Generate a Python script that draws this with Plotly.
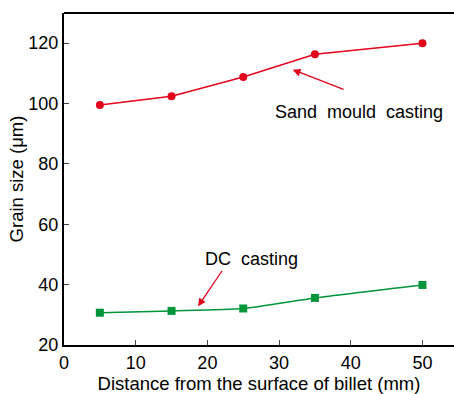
import plotly.graph_objects as go

distance = [5, 15, 25, 35, 50]
sand_mould = [99.5, 102.4, 108.8, 116.3, 120.0]
dc_casting = [30.7, 31.3, 32.1, 35.6, 39.9]

x_ticks = [0, 10, 20, 30, 40, 50]
y_ticks = [20, 40, 60, 80, 100, 120]

RED = "#e3001b"
GREEN = "#00953a"
FONT = "Liberation Sans, Arial, sans-serif"

fig = go.Figure()
fig.add_trace(go.Scatter(
    x=distance, y=sand_mould, mode="lines+markers",
    line=dict(color=RED, width=1.5),
    marker=dict(symbol="circle", size=8, color=RED),
    name="Sand mould casting", showlegend=False))
fig.add_trace(go.Scatter(
    x=distance, y=dc_casting, mode="lines+markers",
    line=dict(color=GREEN, width=1.5, shape="spline", smoothing=0.6),
    marker=dict(symbol="square", size=8, color=GREEN),
    name="DC casting", showlegend=False))

fig.add_annotation(x=41.1, y=97.3, text="Sand  mould  casting", showarrow=False,
                   font=dict(size=18, color="black", family=FONT))
fig.add_annotation(x=31.9, y=111.2, ax=39.2, ay=104.5, axref="x", ayref="y",
                   xref="x", yref="y", text="", showarrow=True,
                   arrowhead=2, arrowsize=1.2, arrowwidth=1.3, arrowcolor=RED)
fig.add_annotation(x=26.2, y=48.6, text="DC  casting", showarrow=False,
                   font=dict(size=18, color="black", family=FONT))
fig.add_annotation(x=18.7, y=32.8, ax=22.2, ay=45.1, axref="x", ayref="y",
                   xref="x", yref="y", text="", showarrow=True,
                   arrowhead=2, arrowsize=1.2, arrowwidth=1.3, arrowcolor=RED)

# top frame line only (no right spine in the reference)
fig.add_shape(type="line", xref="paper", yref="paper", x0=0, x1=1, y0=1, y1=1,
              line=dict(color="black", width=2))

fig.update_layout(
    width=454, height=394,
    margin=dict(l=64, r=0, t=13, b=49, autoexpand=False),
    paper_bgcolor="white", plot_bgcolor="white",
    font=dict(family=FONT, size=18, color="black"),
    xaxis=dict(range=[0, 54.4], tickvals=x_ticks, ticks="inside", ticklen=5,
               tickwidth=1.2, showline=True, linecolor="black", linewidth=2,
               mirror=False, showgrid=False, zeroline=False, automargin=False,
               title=dict(text="Distance from the surface of billet (mm)",
                          font=dict(size=18.5), standoff=2),
               tickfont=dict(size=18)),
    yaxis=dict(range=[20, 130], tickvals=y_ticks, ticks="inside", ticklen=5,
               tickwidth=1.2, showline=True, linecolor="black", linewidth=2,
               mirror=False, showgrid=False, zeroline=False, automargin=False,
               title=dict(text="Grain size (μm)", font=dict(size=18.5), standoff=0),
               tickfont=dict(size=18)),
)

fig.write_html("out.html", config={"displayModeBar": False},
               post_script="document.body.style.margin='0';document.body.style.overflow='hidden';")
